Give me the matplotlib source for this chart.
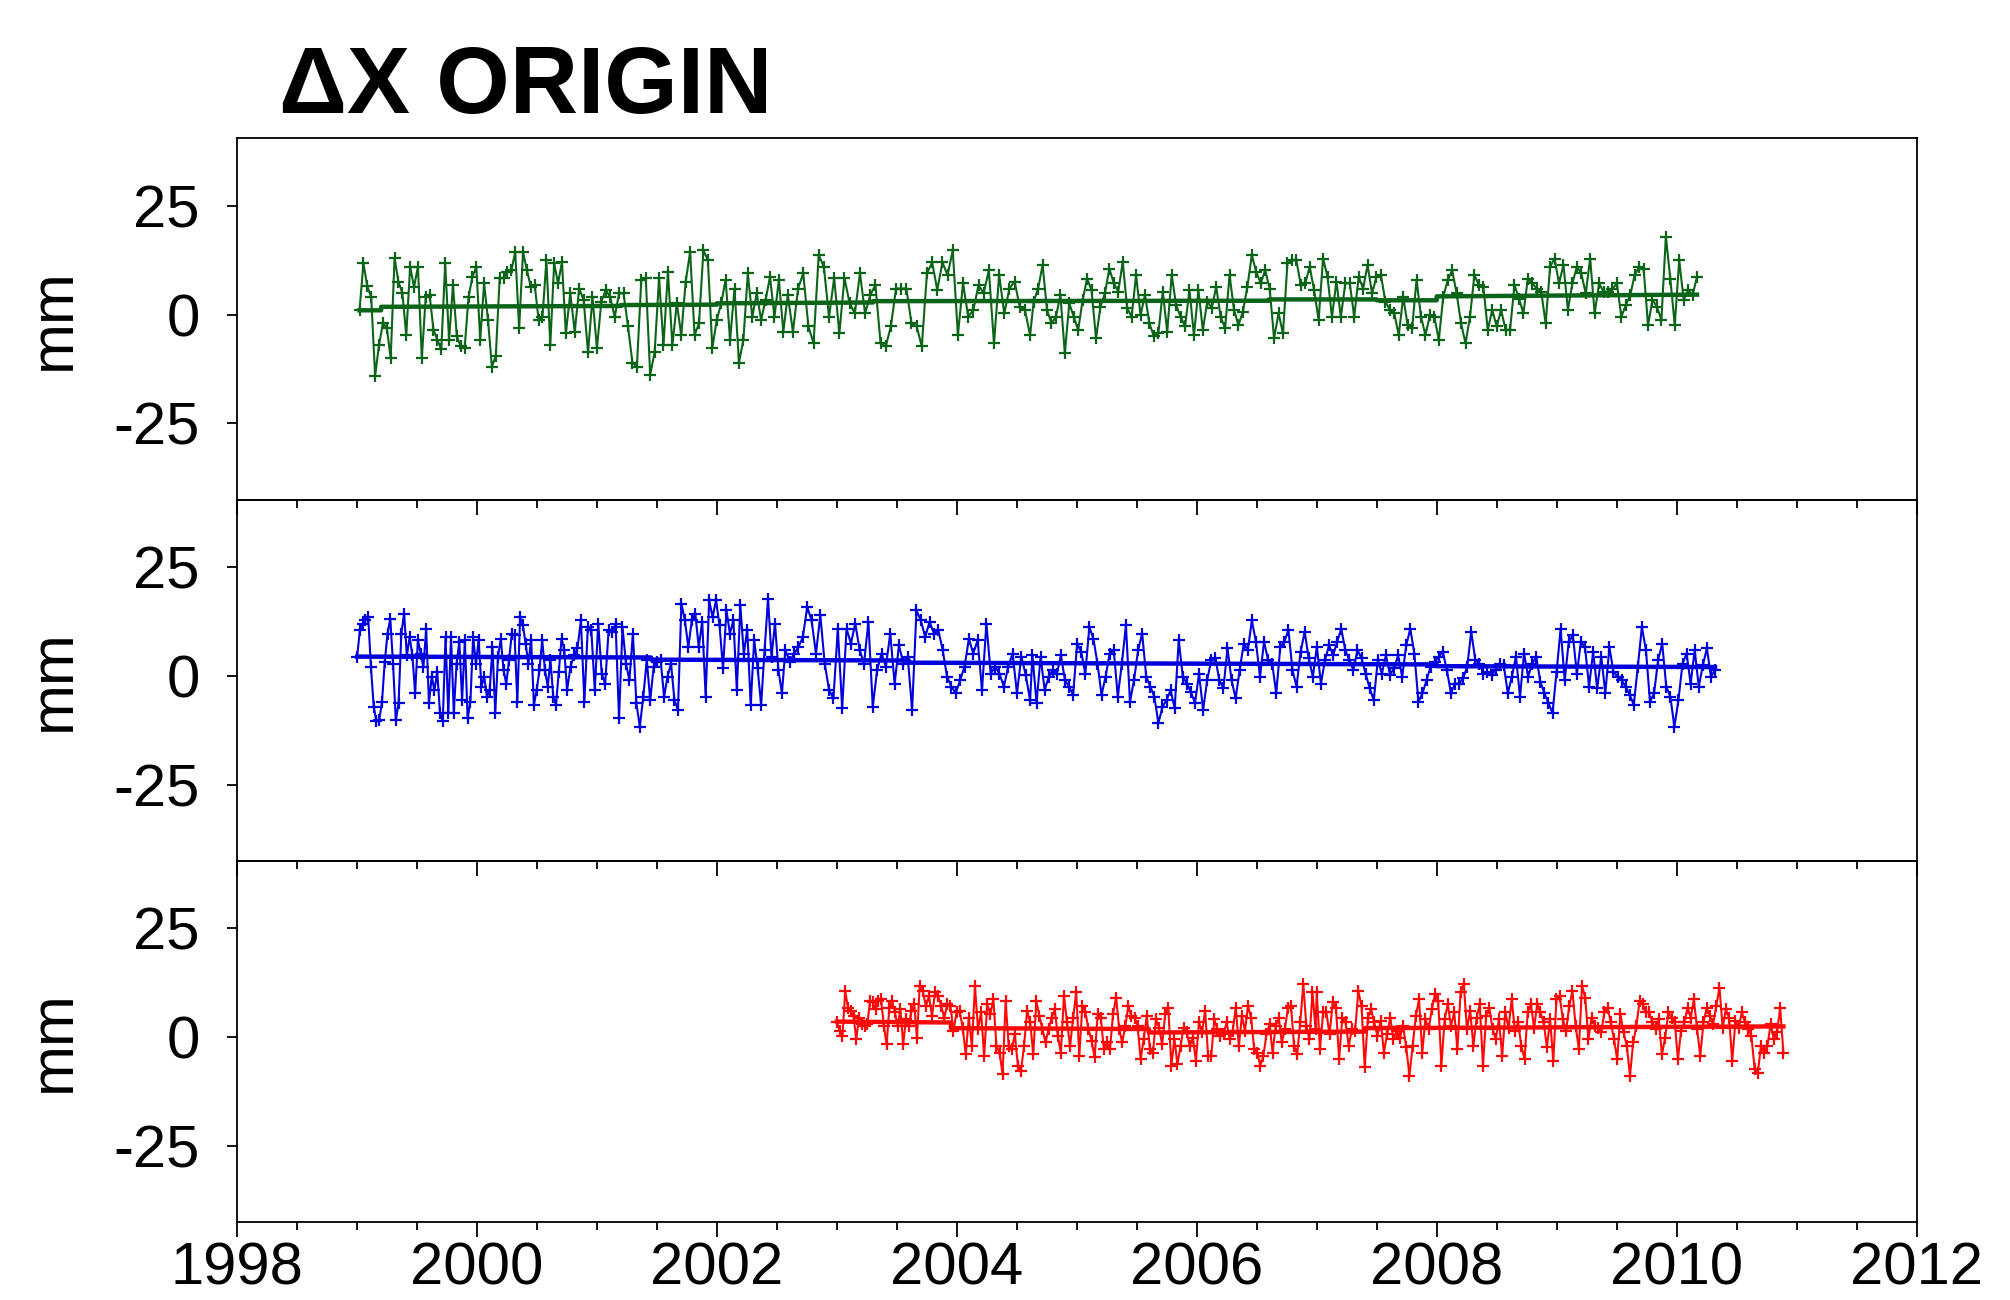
import numpy as np
import matplotlib
matplotlib.use('Agg')
import matplotlib.pyplot as plt
from matplotlib.ticker import MultipleLocator

plt.rcParams['font.family'] = ['Liberation Sans', 'DejaVu Sans']

#################################################
# weekly solutions, values in mm
# each series in two halves, with a few (index, year) anchors for the dates
green_a = [1.0, 11.8, 6.5, 4.0, -14.0, -7.0, -2.0, -3.0, -10.0, 13.0, 7.5, 5.0, -4.7, 11.0, 6.4, 11.0,
           -10.0, 4.0, 4.5, -3.5, -5.8, -8.0, 11.8, -5.8, 6.8, -5.0, -7.3, -7.7, 4.0, 8.7, 11.0, -5.8,
           7.2, -1.2, -12.0, -9.5, 8.4, 8.4, 9.9, 10.2, 14.4, -3.1, 14.4, 10.2, 6.4, 6.8, -1.2, -0.5,
           12.5, -7.0, 11.8, 7.2, 12.1, -4.3, 4.9, -3.9, 6.0, 3.4, -8.7, 4.0, -7.7, 3.0, 5.7, 4.0,
           -0.5, 4.9, 4.9, -2.7, -11.0, -12.0, 8.0, 8.4, -13.8, -8.7, 8.4, -7.0, 9.9, -7.0, 2.6, -4.7,
           7.6, 14.4, -4.7, -2.0, 14.8, 12.5, -7.7, -1.2, 2.6, 8.0, -5.8, 6.0, -11.0, -5.8, 9.5, -0.5,
           4.9, -1.2, 3.4, 8.7, -0.5, 8.0, -3.9, 4.5, -3.9, 6.0, 9.5, -2.7, -6.6, 13.7, 11.0, -0.5,
           8.4, -4.3, 8.4, 2.6, 0.3, 9.5, 0.3, 4.5, 6.8, -6.6, -7.3, -2.7, 6.0, 6.0, 6.0, -2.0,
           -2.7, -7.3, 9.5, 12.0, 5.7, 12.0, 9.1, 14.8, -4.7, 7.2, -0.5, 1.1, 6.8, 4.9, 10.2, -6.6,
           9.1, 0.3, 6.0, 7.6, 1.8, 1.1, -4.7]
green_a_anchor = [(0, 1999.02), (53, 2000.74), (103, 2002.59), (-1, 2004.61)]
green_b = [3.0, 6.0, 11.4, 1.1, -2.0, -0.5, 4.5, -8.9, 2.6, -0.5, -3.5, 3.4, 8.3, 5.6, -5.4, 1.8,
           4.9, 10.6, 7.2, 5.3, 12.1, 1.5, -0.5, 9.1, -0.1, 4.5, -2.0, -5.0, -4.3, 5.3, -3.9, 9.1,
           2.2, -0.5, -2.7, 5.6, -4.7, 5.6, -3.5, 3.0, 1.5, 6.4, -0.5, -3.1, 9.1, 1.1, -2.4, 0.7,
           6.4, 13.7, 9.8, 7.2, 10.2, 6.0, -5.4, 0.3, -4.3, 11.8, 12.5, 12.5, 6.8, 7.2, 11.0, 5.6,
           -1.2, 12.9, 8.7, -0.5, 7.6, -0.5, 7.2, 7.2, -0.5, 8.7, 6.0, 11.4, 4.9, 8.7, 9.1, 3.0,
           1.1, 0.3, -4.7, 4.1, -2.4, -3.1, 8.0, -0.5, -4.7, -0.1, -0.5, -5.8, 4.1, 7.9, 10.2, 4.9,
           -2.0, -6.6, -0.5, 9.1, 6.8, 6.4, -3.5, 1.1, -2.7, 1.1, -3.5, -3.5, 6.8, 3.7, 0.3, 8.3,
           7.2, 6.0, 5.3, -2.0, 11.0, 12.9, 7.2, 11.4, 1.1, 7.2, 11.0, 9.5, 4.9, 12.9, 0.3, 7.2,
           5.3, 5.3, 6.0, 7.2, -0.5, 2.2, 4.5, 9.1, 11.0, 10.6, -2.4, 3.4, 1.8, -1.2, 17.9, 8.3,
           -2.4, 12.5, 3.4, 5.6, 4.5, 8.7]
green_b_anchor = [(0, 2004.64), (-1, 2010.17)]
green_trend_t = [1999.02, 1999.2, 1999.2, 2001.2, 2001.2, 2002.0, 2002.0, 2003.3, 2003.3, 2006.6,
                 2006.6, 2007.5, 2007.5, 2008.0, 2008.0, 2010.17]
green_trend_v = [1.0, 1.0, 1.8, 2.0, 2.2, 2.3, 2.6, 2.8, 3.1, 3.2, 3.5, 3.5, 3.3, 3.3, 4.2, 4.6]

blue_a = [4.4, 10.5, 12.0, 12.7, 13.5, 2.1, -7.1, -10.5, -10.2, -6.0, 3.2, 9.7, 13.1, 2.8, -10.2, -6.3,
          9.7, 14.3, 4.7, 8.9, 4.7, -4.0, 8.2, 5.1, 2.1, 10.8, -6.3, -0.2, -3.3, 0.9, -8.6, -10.5,
          8.9, -8.6, 8.9, -8.6, 2.8, 7.8, -5.6, 8.2, -9.8, -6.0, 8.9, 2.8, 8.2, -2.5, -0.2, -4.8,
          -3.3, 6.6, -8.6, 4.4, 8.5, 1.3, -1.8, 3.6, 9.7, 9.3, -6.0, 13.5, 11.6, 7.4, 2.8, 8.2,
          -6.7, -3.3, 1.3, 8.2, 1.3, -2.5, 3.6, -4.8, -6.7, 0.9, 8.5, 5.9, -3.3, 2.1, 4.7, 6.3,
          12.7, -6.0, 11.2, 10.5, -3.3, 12.0, 0.5, -1.8, 10.5, 10.1, 12.0, -9.8, 11.2, 2.8, -1.0, 9.7,
          -6.3, -11.7, -4.8, 3.6, -5.6, 2.1, 3.2, 3.6, -4.8, -0.2, 2.8, -5.6, -7.9, 16.6, 12.7, 6.6,
          12.7, 14.3, 6.6, 12.4, -4.8, 17.3, 13.5, 17.3, 11.6, 1.7, 15.0, 9.7, 12.7, -3.3, 16.2, 5.1,
          10.5, -6.7, 8.2, 1.7, -6.7, 5.9, 17.7, 4.4, 12.0, 1.3, -4.0, 5.9, 3.2, 5.1, 6.6, 8.9,
          15.8, 12.7, 5.1, 13.9, 2.8, -3.3, -5.2, 10.8, -7.5, 10.8, 7.4, 12.0, 5.9, 2.8, 12.4, -7.1,
          1.3, 5.1, 2.1, 9.7, -1.8, 7.0, 2.8, 4.4, -7.9, 15.0, 12.7, 8.9, 12.4, 9.7, 10.5, 5.9,
          -0.2, -2.5, -4.0, -1.0, 2.1, 8.5, 5.1, 8.2, -3.3, 12.0, 0.5, 2.1, 0.5, -2.5, 2.1, 5.1,
          -4.0, 4.4, 0.2, -5.6]
blue_a_anchor = [(0, 1999.0), (76, 2000.75), (139, 2002.57), (-1, 2004.61)]
blue_b = [4.7, -6.3, 4.4, -3.3, -0.2, 1.3, 0.5, 4.7, -1.0, -2.5, -4.4, 7.4, 5.5, 0.5, 11.2, 8.5,
          2.8, -4.4, -0.2, 5.1, 5.9, -4.8, 2.8, 11.6, -6.0, -1.0, 5.9, 9.7, -0.2, -2.5, -4.8, -10.9,
          -7.1, -5.6, -3.3, -7.5, 8.2, -0.2, -1.8, -3.7, -6.3, 0.5, -7.9, -1.0, 3.6, 4.0, -1.0, -2.9,
          6.3, -1.0, -5.2, 1.3, 7.4, 5.9, 12.7, 7.8, -0.2, 7.8, 3.6, 2.8, -4.0, 6.6, 7.8, 10.5,
          1.3, -2.5, 5.5, 10.1, 4.0, -0.2, 6.6, -1.8, 3.6, 7.0, 4.7, 7.8, 10.8, 5.9, 3.6, 1.3,
          5.9, 4.0, 0.5, -2.9, -5.6, 3.6, 0.5, 4.7, 0.2, 1.7, 4.7, -0.2, 7.0, 10.8, 5.1, -6.0,
          -4.0, -1.0, 2.1, 3.2, 4.4, 5.5, 1.3, -4.0, -1.8, -1.8, -0.6, 2.1, 10.1, 3.6, 2.8, 0.5,
          0.9, 0.2, 1.3, 2.8, 2.4, -4.0, -0.2, 4.4, -4.8, 5.1, -0.2, 2.8, 4.4, -1.4, -4.0, -6.3,
          -8.6, 0.9, 10.8, -1.0, 7.8, 9.3, 0.5, 7.8, 6.6, -2.5, 5.5, -2.9, 4.4, -4.0, 6.6, 0.9,
          -0.2, -1.0, -2.5, -4.4, -6.7, 2.1, 11.2, 5.9, -6.0, -4.0, 3.6, 7.4, -2.5, -4.8, -11.7, -5.6,
          2.8, 5.1, -1.8, 5.9, -2.5, 2.4, 6.3, -0.2, 1.3]
blue_b_anchor = [(0, 2004.63), (-1, 2010.32)]
blue_trend_t = [1999.0, 2001.45, 2001.45, 2003.6, 2003.6, 2008.0, 2008.0, 2010.32]
blue_trend_v = [4.4, 4.2, 3.7, 3.5, 3.0, 2.6, 2.2, 2.0]

red_a = [3.3, 1.4, 0.2, 10.5, 6.7, 6.0, 4.8, -0.5, 4.4, 2.9, 2.5, 2.9, 8.2, 7.9, 6.3, 8.2,
         8.6, 2.5, -1.7, 6.7, 8.2, 5.6, 2.5, 6.3, -1.7, 4.0, 2.5, 6.0, 7.5, -0.2, 11.7, 10.5,
         7.1, 9.4, 4.8, 10.2, 9.4, 7.1, 4.4, 7.5, 7.1, 1.4, 5.6, 6.0, 2.1, -4.0, 4.4, -2.1,
         11.7, 1.8, 5.6, -4.4, 7.5, 5.2, 8.6, -2.1, -3.6, -8.5, 8.2, -2.1, -2.8, 0.6, -6.6, -7.8,
         -2.1, 6.0, 3.3, -4.0, 8.2, 4.8, 1.8, -1.3, 1.8, 4.4, 6.3, 0.2, -3.6, 9.4, 3.3, -2.1,
         4.4, 10.2, -4.4, 7.1, 5.6, 1.8, -0.9, -4.7, 5.2, 4.4, -2.8, -1.3, -2.8, 5.2, 9.0, 1.8,
         -1.3, 2.5, 7.1, 4.8, 4.4, 2.5, -5.1, -0.5, 4.8, -2.8, -3.6, 4.0, 2.1, -1.7, 5.2, 6.7,
         -6.6, -0.5, -6.3, -2.1, 2.1, 1.0, -2.1, -0.2, -5.5, 3.3, 1.0, 6.0, -4.4, -4.4, 4.0, 1.8,
         0.2, 0.6, 3.3, -0.5, 1.4, 6.7, -2.1, 4.8, 1.4, 7.1, 4.4, -2.8, -3.6, -6.6, -4.4, 0.6,
         2.9, -3.6, 2.5, 4.4, -1.3, 1.8, 6.7, 7.1, -2.1, -4.0, 3.3, 12.1, 2.5, -0.5, 10.2, 1.8]
red_a_anchor = [(0, 2003.0), (30, 2003.69), (-1, 2006.99)]
red_b = [10.2, -2.8, 5.6, 5.6, 0.6, 7.9, 6.7, -5.1, 4.4, 3.3, -2.1, 1.8, 1.4, 10.5, 7.1, -7.0,
         4.4, 6.3, 3.3, 0.2, 3.7, -3.6, 0.6, 4.4, -0.5, 1.4, -0.2, 2.5, -2.4, -8.9, -2.1, 4.8,
         8.6, -3.6, 4.0, 1.8, 6.3, 9.8, 8.2, -6.6, 4.0, 7.5, 2.5, 5.6, -2.8, 10.2, 12.1, 1.8,
         6.0, -2.1, 4.4, 7.5, -6.6, 4.8, 6.7, 1.8, -0.5, 4.0, -4.4, 5.6, 2.1, 8.6, 1.4, 3.3,
         -2.1, -5.1, 5.6, 7.5, 2.1, 7.5, 5.6, 3.3, -2.4, 4.0, -5.5, 8.6, 9.4, 4.0, 1.4, 7.1,
         10.5, 2.5, -2.8, 11.7, 9.0, -0.5, 4.4, 2.5, 2.1, 1.0, 5.6, 6.7, 3.3, -0.5, -5.1, 5.2,
         1.0, -2.1, -8.9, -1.3, 2.5, 8.2, 7.5, 5.6, 5.6, 3.3, 1.8, 4.0, -4.0, -0.2, 5.6, 4.4,
         3.3, -5.1, 1.4, 3.3, 6.7, 4.4, 8.6, 1.8, -4.4, 3.3, 6.7, 4.8, 2.9, 7.1, 11.3, 2.1,
         6.3, 4.4, -5.5, 3.7, 2.1, 5.6, 3.3, 1.8, 0.2, -7.4, -8.2, -2.1, -3.6, -2.1, 2.9, -0.5,
         1.0, 6.7, -3.6]
red_b_anchor = [(0, 2007.0), (-1, 2010.89)]
red_trend_t = [2003.0, 2003.95, 2003.95, 2005.6, 2005.6, 2007.4, 2007.4, 2010.89]
red_trend_v = [3.5, 3.3, 2.0, 1.8, 1.0, 1.2, 2.0, 2.4]


def dates(vals, anchors):
    n = len(vals)
    idx = [i % n for i, _ in anchors]
    yrs = [y for _, y in anchors]
    return np.interp(np.arange(n), idx, yrs)


series = [
    (np.concatenate([dates(green_a, green_a_anchor), dates(green_b, green_b_anchor)]),
     green_a + green_b, green_trend_t, green_trend_v, '#0b6418'),
    (np.concatenate([dates(blue_a, blue_a_anchor), dates(blue_b, blue_b_anchor)]),
     blue_a + blue_b, blue_trend_t, blue_trend_v, '#0000dc'),
    (np.concatenate([dates(red_a, red_a_anchor), dates(red_b, red_b_anchor)]),
     red_a + red_b, red_trend_t, red_trend_v, '#ff0808'),
]

#################################################
fig = plt.figure(figsize=(20.1, 13), dpi=100)

left, right = 0.118, 0.9535
bottom, top = 0.0602, 0.8935
h = (top - bottom) / 3

for i, (t, vals, tt, tv, col) in enumerate(series):
    ax = fig.add_axes([left, top - (i + 1) * h, right - left, h])
    ax.set_facecolor('none')
    ax.plot(t, vals, color=col, lw=1.5, marker='+', ms=8, mew=1.6)
    ax.plot(tt, tv, color=col, lw=3.2)

    ax.set_xlim(1998, 2012)
    ax.set_ylim(-42.5, 40.5)
    ax.xaxis.set_major_locator(MultipleLocator(2))
    ax.xaxis.set_minor_locator(MultipleLocator(0.5))
    ax.set_yticks([-25, 0, 25])
    ax.set_yticklabels(['-25', '0', '25'])
    ax.tick_params(axis='y', direction='out', length=7, width=1.3, pad=20, labelsize=43)
    ax.tick_params(axis='x', which='major', direction='out', length=11, width=1.3, pad=3, labelsize=43)
    ax.tick_params(axis='x', which='minor', direction='out', length=6, width=1.3)
    if i < 2:
        ax.tick_params(axis='x', labelbottom=False)
    for sp in ax.spines.values():
        sp.set_linewidth(1.3)
    ax.set_ylabel('mm', fontsize=44)
    ax.yaxis.set_label_coords(-0.092, 0.5)

fig.text(0.139, 0.913, '\u0394X ORIGIN', fontsize=68, fontweight='bold', va='baseline')

fig.savefig('out.png', dpi=100)
print("done")
